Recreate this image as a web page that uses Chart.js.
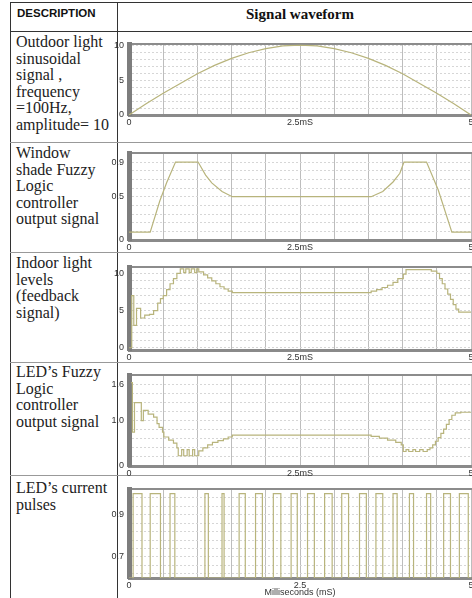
<!DOCTYPE html>
<html lang="en">
<head>
<meta charset="UTF-8">
<title>Signal waveforms</title>
<script src="https://cdn.jsdelivr.net/npm/chart.js"></script>
<style>
  body { margin: 0; width: 472px; height: 598px; overflow: hidden; background: #fff; position: relative; }
  .ln { position: absolute; background: #333; }
  .desc { position: absolute; left: 16px; font-family: "Liberation Serif", serif; font-size: 16px; line-height: 16.5px; color: #222; white-space: nowrap; }
  canvas { position: absolute; left: 108px; }
</style>
</head>
<body>
  <!-- table lines -->
  <div class="ln" style="left:10px;top:2px;width:1px;height:596px"></div>
  <div class="ln" style="left:117px;top:2px;width:1px;height:596px"></div>
  <div class="ln" style="left:10px;top:2px;width:462px;height:1px"></div>
  <div class="ln" style="left:10px;top:31px;width:462px;height:1px"></div>
  <div class="ln" style="left:10px;top:142px;width:462px;height:1px;background:#999"></div>
  <div class="ln" style="left:10px;top:252px;width:462px;height:1px;background:#999"></div>
  <div class="ln" style="left:10px;top:362px;width:462px;height:1px;background:#999"></div>
  <div class="ln" style="left:10px;top:475px;width:462px;height:1px;background:#999"></div>

  <div style="position:absolute;left:17px;top:7px;font:bold 11.5px 'Liberation Sans',sans-serif;color:#111">DESCRIPTION</div>
  <div style="position:absolute;left:200px;width:200px;top:6px;text-align:center;font:bold 15px 'Liberation Serif',serif;color:#111">Signal waveform</div>

  <div class="desc" style="top:34px">Outdoor light<br>sinusoidal<br>signal ,<br>frequency<br>=100Hz,<br>amplitude= 10</div>
  <div class="desc" style="top:145px">Window<br>shade Fuzzy<br>Logic<br>controller<br>output signal</div>
  <div class="desc" style="top:255px">Indoor light<br>levels<br>(feedback<br>signal)</div>
  <div class="desc" style="top:364px">LED’s Fuzzy<br>Logic<br>controller<br>output signal</div>
  <div class="desc" style="top:480px">LED’s current<br>pulses</div>

  <canvas id="c1" width="380" height="93" style="top:34px"></canvas>
  <canvas id="c2" width="380" height="109" style="top:143px"></canvas>
  <canvas id="c3" width="380" height="105" style="top:257px"></canvas>
  <canvas id="c4" width="380" height="113" style="top:365px"></canvas>
  <canvas id="c5" width="380" height="119" style="top:479px"></canvas>

<script>
// x axis (milliseconds)
const msTicks = [0, 2.5, 5];
const msTickText = ['0', '2.5mS', '5'];
const msTickTextLast = ['0', '2.5', '5'];

// outdoor light, sinusoidal signal
const outdoorT = [0, 0.25, 0.5, 0.75, 1, 1.25, 1.5, 1.75, 2, 2.25, 2.5, 2.75, 3, 3.25, 3.5, 3.75, 4, 4.25, 4.5, 4.75, 5];
const outdoorV = [0, 1.6, 3.1, 4.5, 5.9, 7.1, 8.1, 8.9, 9.5, 9.9, 10, 9.9, 9.5, 8.9, 8.1, 7.1, 5.9, 4.5, 3.1, 1.6, 0];
const outdoorYTicks = [0, 5, 10];
const outdoorYText = ['0', '5', '10'];

// window shade fuzzy logic output
const shadeT = [0, 0.31, 0.45, 0.55, 0.68, 1.01, 1.12, 1.21, 1.36, 1.51, 3.54, 3.71, 3.86, 3.96, 4.02, 4.35, 4.52, 4.72, 5];
const shadeV = [0.09, 0.09, 0.45, 0.66, 0.9, 0.9, 0.75, 0.66, 0.56, 0.5, 0.5, 0.56, 0.67, 0.77, 0.9, 0.9, 0.58, 0.09, 0.09];
const shadeYTicks = [0, 0.5, 0.9];
const shadeYText = ['0', '0.5', '0.9'];

// indoor light levels (feedback)
const indoorT = [0, 0.04, 0.07, 0.11, 0.17, 0.23, 0.30, 0.36, 0.42, 0.46, 0.50, 0.55, 0.60, 0.65, 0.70, 0.75, 0.80, 0.83, 0.88, 0.91, 0.96, 0.99, 1.02, 1.09, 1.15, 1.21, 1.27, 1.33, 1.39, 1.45, 1.51, 3.54, 3.62, 3.70, 3.78, 3.86, 3.93, 4.01, 4.05, 4.42, 4.50, 4.54, 4.58, 4.62, 4.66, 4.70, 4.74, 4.78, 4.82, 5];
const indoorV = [0, 7.0, 3.0, 5.3, 4.0, 4.4, 4.5, 5.0, 6.0, 6.6, 7.0, 7.8, 8.6, 9.3, 10.0, 10.6, 10.1, 10.6, 10.1, 10.6, 10.1, 10.6, 10.2, 9.8, 9.4, 9.0, 8.6, 8.2, 7.9, 7.6, 7.4, 7.6, 7.8, 8.1, 8.4, 8.8, 9.3, 9.9, 10.5, 10.3, 10.0, 9.3, 8.6, 7.9, 7.2, 6.5, 5.8, 5.2, 4.8, 4.7];
const indoorYTicks = [0, 5, 10];
const indoorYText = ['0', '5', '10'];

// LED fuzzy logic output
const ledT = [0.03, 0.05, 0.08, 0.18, 0.21, 0.28, 0.36, 0.41, 0.44, 0.49, 0.51, 0.58, 0.65, 0.70, 0.72, 0.77, 0.80, 0.85, 0.88, 0.93, 0.96, 1.02, 1.08, 1.15, 1.22, 1.30, 1.38, 1.45, 1.51, 3.54, 3.66, 3.78, 3.90, 3.98, 4.01, 4.05, 4.09, 4.15, 4.19, 4.25, 4.30, 4.36, 4.40, 4.44, 4.48, 4.52, 4.56, 4.60, 4.64, 4.68, 4.72, 4.77, 4.85, 5];
const ledV = [1.63, 0.81, 1.30, 1.0, 1.17, 1.11, 1.06, 0.95, 0.89, 0.81, 0.73, 0.68, 0.63, 0.55, 0.42, 0.52, 0.42, 0.52, 0.42, 0.52, 0.42, 0.50, 0.55, 0.60, 0.64, 0.67, 0.70, 0.73, 0.76, 0.74, 0.71, 0.68, 0.64, 0.60, 0.49, 0.52, 0.49, 0.52, 0.49, 0.52, 0.49, 0.52, 0.55, 0.60, 0.66, 0.72, 0.79, 0.86, 0.94, 1.02, 1.09, 1.13, 1.14, 1.15];
const ledYTicks = [0.25, 1.0, 1.6];
const ledYText = ['0', '1.0', '1.6'];

// LED current pulses
const pulseOn = [0.06, 0.31, 0.60, 1.11, 1.36, 1.61, 1.85, 2.11, 2.37, 2.61, 2.86, 3.11, 3.37, 3.61, 3.86, 4.10, 4.35, 4.60, 4.83];
const pulseOff = [0.19, 0.46, 0.67, 1.16, 1.39, 1.70, 1.95, 2.22, 2.46, 2.71, 2.97, 3.21, 3.47, 3.71, 3.92, 4.16, 4.41, 4.70, 4.96];
const pulseHigh = 1.0;
const pulseLow = 0.6;
const pulseYTicks = [0.7, 0.9];
const pulseYText = ['0.7', '0.9'];

const pulseT = [0];
const pulseV = [pulseLow];
pulseOn.forEach((on, i) => {
    pulseT.push(on, pulseOff[i]);
    pulseV.push(pulseHigh, pulseLow);
});
pulseT.push(5);
pulseV.push(pulseLow);

const panels = [
    { id: 'c1', t: outdoorT, v: outdoorV, stepped: false, min: 0, max: 10.1, grid: [0, 1], yTicks: outdoorYTicks, yText: outdoorYText, xText: msTickText, axisH: 12 },
    { id: 'c2', t: shadeT, v: shadeV, stepped: false, min: 0, max: 1.0, grid: [0, 0.1], yTicks: shadeYTicks, yText: shadeYText, xText: msTickText, axisH: 12 },
    { id: 'c3', t: indoorT, v: indoorV, stepped: true, min: -0.3, max: 10.8, grid: [0, 1], yTicks: indoorYTicks, yText: indoorYText, xText: msTickText, axisH: 12 },
    { id: 'c4', t: ledT, v: ledV, stepped: true, min: 0.25, max: 1.75, grid: [0.25, 0.15], yTicks: ledYTicks, yText: ledYText, xText: msTickText, axisH: 12 },
    { id: 'c5', t: pulseT, v: pulseV, stepped: true, min: 0.6, max: 1.02, grid: [0.62, 0.04], yTicks: pulseYTicks, yText: pulseYText, xText: msTickTextLast, axisH: 20, title: 'Milliseconds (mS)' }
];

const tickFont = { family: 'Liberation Sans', size: 9 };

function pick(list, text, val) {
    const i = list.findIndex(t => Math.abs(t - val) < 1e-6);
    return i < 0 ? '' : text[i];
}

panels.forEach(p => {
    const gridY = [];
    for (let k = 0; k < 11; k++) gridY.push(p.grid[0] + p.grid[1] * k);
    const gridX = [];
    for (let k = 0; k <= 10; k++) gridX.push(k * 0.5);

    new Chart(document.getElementById(p.id), {
        type: 'line',
        data: {
            datasets: [{
                data: p.t.map((x, i) => ({ x: x, y: p.v[i] })),
                borderColor: '#b8b47c',
                borderWidth: 1.2,
                pointRadius: 0,
                stepped: p.stepped,
                tension: 0,
                fill: false
            }]
        },
        options: {
            responsive: false,
            animation: false,
            layout: { padding: { top: 2, right: 17, left: 0, bottom: 0 } },
            plugins: { legend: { display: false }, tooltip: { enabled: false } },
            scales: {
                x: {
                    type: 'linear', min: 0, max: 5,
                    z: p.id === 'c5' ? 1 : 0,
                    afterBuildTicks: s => { s.ticks = gridX.map(v => ({ value: v })); },
                    afterFit: s => { s.height = p.axisH; },
                    grid: { color: '#bdbdbd', lineWidth: 1, drawTicks: false },
                    border: { color: '#8a8a8a', width: 3 },
                    ticks: {
                        font: tickFont, color: '#333', padding: 2, maxRotation: 0, autoSkip: false,
                        callback: v => pick(msTicks, p.xText, v)
                    },
                    title: p.title ? { display: true, text: p.title, font: tickFont, color: '#333', padding: 0 } : { display: false }
                },
                top: {
                    type: 'linear', position: 'top',
                    grid: { display: false },
                    ticks: { display: false },
                    afterFit: s => { s.height = 0; },
                    border: { color: '#8c8c8c', width: 2 }
                },
                y: {
                    min: p.min, max: p.max,
                    afterBuildTicks: s => { s.ticks = gridY.map(v => ({ value: v })); },
                    afterFit: s => { s.width = 21; },
                    grid: { color: '#d6d6d6', lineWidth: 1, drawTicks: false },
                    border: { color: '#7d7d7d', width: 5, dash: [2, 2] },
                    ticks: {
                        font: tickFont, color: '#333', padding: 5, autoSkip: false,
                        callback: v => pick(p.yTicks, p.yText, v)
                    }
                }
            }
        }
    });
});
</script>
</body>
</html>
